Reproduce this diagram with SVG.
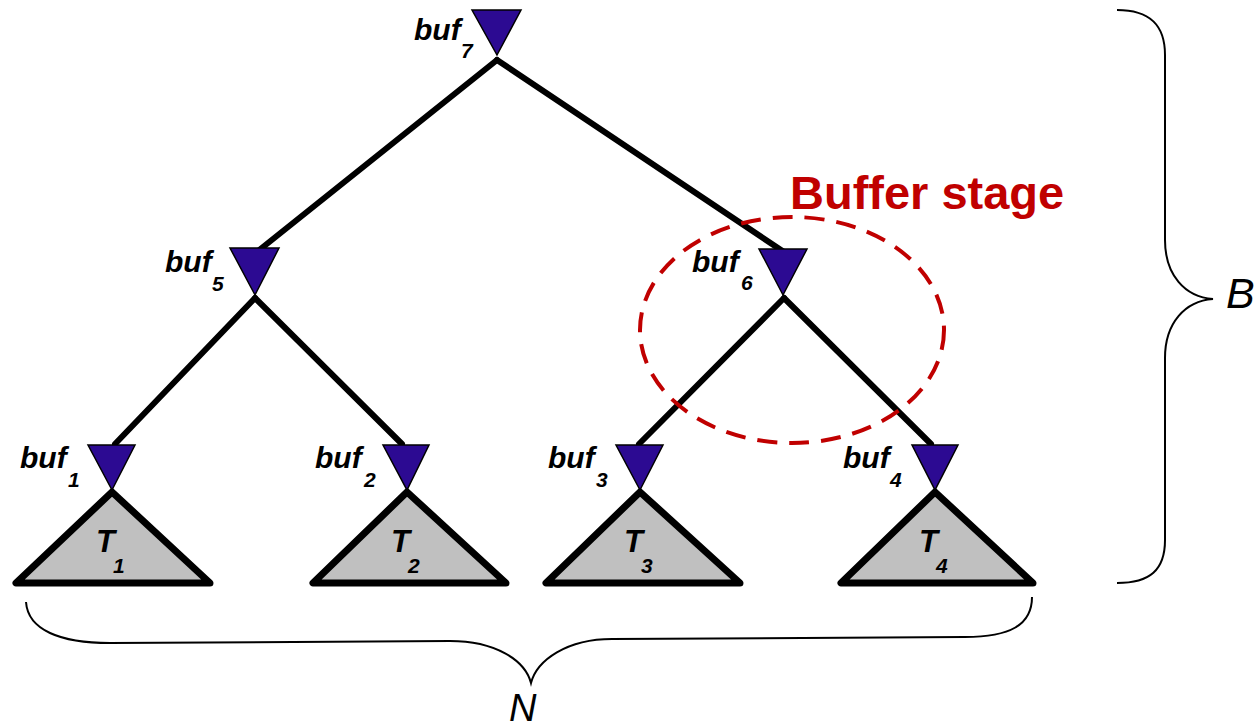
<svg xmlns="http://www.w3.org/2000/svg" width="1255" height="728" viewBox="0 0 1255 728">
<style>
.edge{stroke:#000;stroke-width:6;fill:none;stroke-linecap:round}
.buf{fill:#2c0a92;stroke:#000;stroke-width:1.5;stroke-linejoin:miter}
.tree{fill:#c0c0c0;stroke:#000;stroke-width:7;stroke-linejoin:round}
.lbl{font-family:"Liberation Sans",Arial,sans-serif;font-weight:bold;font-style:italic;fill:#000}
.b{font-size:30px}
.s{font-size:21px}
.t{font-size:31px}
.brace{fill:none;stroke:#000;stroke-width:2}
</style>
<rect width="1255" height="728" fill="#fff"/>
<g id="connectors">
<line class="edge" x1="497" y1="60" x2="258" y2="251"/>
<line class="edge" x1="497" y1="60" x2="784" y2="252"/>
<line class="edge" x1="255" y1="298" x2="115" y2="444"/>
<line class="edge" x1="255" y1="298" x2="402" y2="444"/>
<line class="edge" x1="784" y1="298" x2="639" y2="444"/>
<line class="edge" x1="784" y1="298" x2="931" y2="444"/>
</g>
<g id="T1"><polygon class="tree" points="112,492 16,583 210,583"/><text class="lbl t" x="96" y="552">T</text><text class="lbl s" x="113" y="573">1</text></g>
<g id="T2"><polygon class="tree" points="407,492 313,583 506,583"/><text class="lbl t" x="391" y="552">T</text><text class="lbl s" x="408" y="573">2</text></g>
<g id="T3"><polygon class="tree" points="640,492 546,583 740,583"/><text class="lbl t" x="624" y="552">T</text><text class="lbl s" x="641" y="573">3</text></g>
<g id="T4"><polygon class="tree" points="935,492 841,583 1033,583"/><text class="lbl t" x="919" y="552">T</text><text class="lbl s" x="936" y="573">4</text></g>
<g id="buf7"><polygon class="buf" points="472,10 521,10 497,55"/><text class="lbl b" x="414" y="40">buf</text><text class="lbl s" x="461" y="58">7</text></g>
<g id="buf5"><polygon class="buf" points="230,248 279,248 255,295"/><text class="lbl b" x="165" y="272">buf</text><text class="lbl s" x="212" y="291">5</text></g>
<g id="buf6"><polygon class="buf" points="759,249 807,249 783,295"/><text class="lbl b" x="692" y="272">buf</text><text class="lbl s" x="741" y="290">6</text></g>
<g id="buf1"><polygon class="buf" points="88,445 135,445 112,490"/><text class="lbl b" x="20" y="468">buf</text><text class="lbl s" x="68" y="487">1</text></g>
<g id="buf2"><polygon class="buf" points="383,445 429,445 407,490"/><text class="lbl b" x="315" y="468">buf</text><text class="lbl s" x="364" y="487">2</text></g>
<g id="buf3"><polygon class="buf" points="616,445 663,445 640,490"/><text class="lbl b" x="548" y="468">buf</text><text class="lbl s" x="596" y="487">3</text></g>
<g id="buf4"><polygon class="buf" points="912,445 958,445 935,490"/><text class="lbl b" x="843" y="468">buf</text><text class="lbl s" x="890" y="487">4</text></g>
<g id="stage">
<ellipse cx="792" cy="330" rx="152" ry="113" fill="none" stroke="#c00000" stroke-width="4" stroke-dasharray="20 12"/>
<text x="790" y="209" font-family="Liberation Sans,Arial,sans-serif" font-weight="bold" font-size="47" fill="#c00000">Buffer stage</text>
</g>
<g id="braceB">
<path class="brace" d="M1117,10 C1150,10 1165,25 1165,55 L1165,240 C1165,275 1185,297 1213,299 C1185,301 1165,323 1165,358 L1165,540 C1165,570 1150,583 1117,583"/>
<text x="1226" y="308" font-family="Liberation Sans,Arial,sans-serif" font-style="italic" font-size="43" fill="#000">B</text>
</g>
<g id="braceN">
<path class="brace" d="M26,602 C28,630 60,643 110,643 L450,641 C495,641 525,660 531,683 C537,660 567,639 612,639 L965,637 C1010,637 1032,625 1032,597"/>
<text x="509" y="721" font-family="Liberation Sans,Arial,sans-serif" font-style="italic" font-size="38" fill="#000">N</text>
</g>
</svg>
